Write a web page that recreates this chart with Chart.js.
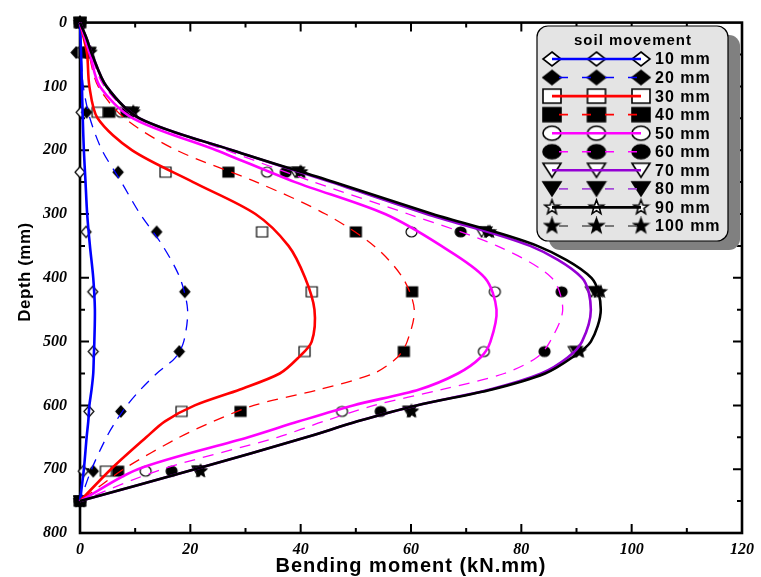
<!DOCTYPE html>
<html><head><meta charset="utf-8">
<script src="https://cdn.jsdelivr.net/npm/chart.js@4.4.1/dist/chart.umd.min.js"></script>
<style>html,body{margin:0;padding:0;background:#fff}#wrap{width:761px;height:577px;position:relative}</style>
</head><body><div id="wrap"><canvas id="c" width="761" height="577"></canvas></div>
<script>
// ---------- data ----------
const legendTitle = 'soil movement';
const seriesLabels = ['10 mm','20 mm','30 mm','40 mm','50 mm','60 mm','70 mm','80 mm','90 mm','100 mm'];
const xTitle = 'Bending moment (kN.mm)';
const yTitle = 'Depth (mm)';

// depths (mm) of the measured points (markers)
const markerDepths = [0, 46.9, 140.6, 234.4, 328.1, 421.9, 515.6, 609.4, 703.1, 750];
const m10  = [0, 0,    0.2, 0,    1.1,  2.3,  2.4,  1.6,  0.6,  0];
const m20  = [0, -0.7, 1.2, 6.9,  13.9, 19.0, 18.0, 7.4,  2.4,  0];
const m30  = [0, 0.5,  3.2, 15.5, 33.0, 42.0, 40.7, 18.4, 4.7,  0];
const m40  = [0, 0.8,  5.3, 26.9, 50.0, 60.2, 58.7, 29.1, 6.9,  0];
const m50  = [0, 1.2,  7.4, 33.9, 60.1, 75.2, 73.2, 47.5, 11.9, 0];
const m60  = [0, 1.4,  8.4, 37.3, 69.0, 87.3, 84.2, 54.5, 16.6, 0];
const m70  = [0, 1.6,  9.2, 39.0, 72.8, 92.7, 89.6, 59.6, 21.4, 0];
const m80  = [0, 1.8,  9.6, 39.6, 73.6, 93.3, 90.0, 59.8, 21.6, 0];
const m90  = [0, 1.8,  9.6, 39.9, 74.0, 94.0, 90.4, 60.0, 21.8, 0];
const m100 = [0, 1.9,  9.7, 40.1, 74.3, 94.4, 90.6, 60.2, 21.9, 0];

// depths (mm) at which the fitted curves were read
const lineDepths = [0, 25, 50, 100, 150, 200, 250, 300, 350, 400, 450, 500, 525, 550, 575, 600, 625, 650, 700, 750];
const l10  = [0, 0.1, 0.2, 0.35, 0.5, 0.7, 1.0, 1.3, 1.8, 2.4, 2.7, 2.6, 2.5, 2.4, 2.1, 1.7, 1.5, 1.2, 0.7, 0];
const l20  = [0, 0.1, 0.2, 0.6, 1.8, 4.0, 7.5, 10.9, 15.0, 18.1, 19.5, 18.8, 17.3, 13.9, 11.0, 8.5, 6.5, 4.8, 2.1, 0];
const l30  = [0, 0.7, 1.3, 1.7, 3.2, 9.4, 20.5, 31.8, 37.8, 40.8, 42.5, 42.0, 39.6, 36.2, 29.0, 20.8, 15.4, 12.0, 5.6, 0];
const l40  = [0, 0.8, 1.6, 3.3, 8.1, 17.5, 32.0, 44.5, 53.3, 58.5, 60.6, 59.3, 57.5, 53.2, 43.4, 31.5, 24.2, 18.0, 7.9, 0];
const l50  = [0, 0.9, 1.8, 3.6, 9.6, 24.7, 39.0, 55.3, 65.5, 73.4, 75.5, 74.4, 72.6, 68.5, 61.5, 49.5, 39.7, 30.5, 10.5, 0];
const l60  = [0, 1.0, 2.0, 4.4, 10.5, 26.5, 42.4, 59.5, 75.6, 85.5, 87.5, 85.2, 82.8, 76.9, 65.7, 53.3, 44.2, 35.8, 14.9, 0];
const l70  = [0, 1.2, 2.2, 4.8, 10.8, 27.6, 45.5, 62.8, 81.6, 91.0, 92.6, 91.0, 88.4, 83.6, 74.3, 61.0, 50.3, 41.0, 20.8, 0];
const l80  = [0, 1.2, 2.2, 4.8, 10.8, 27.6, 45.5, 62.8, 81.6, 91.0, 92.6, 91.0, 88.4, 83.6, 74.3, 61.0, 50.3, 41.0, 20.8, 0];
const l90  = [0, 1.2, 2.2, 4.8, 10.8, 27.6, 46.0, 63.9, 82.9, 92.7, 94.4, 92.6, 89.2, 84.3, 74.7, 61.0, 50.3, 41.0, 20.8, 0];
const l100 = [0, 1.2, 2.2, 4.8, 10.8, 27.6, 46.0, 63.9, 82.9, 92.7, 94.4, 92.6, 89.2, 84.3, 74.7, 61.0, 50.3, 41.0, 20.8, 0];

const xTicks = [0, 20, 40, 60, 80, 100, 120];
const yTicks = [0, 100, 200, 300, 400, 500, 600, 700, 800];

// ---------- styles ----------
const markerSets = [m10, m20, m30, m40, m50, m60, m70, m80, m90, m100];
const lineSets   = [l10, l20, l30, l40, l50, l60, l70, l80, l90, l100];
const colors  = ['#0000ff','#0000ff','#ff0000','#ff0000','#ff00ff','#ff00ff','#9400d3','#a64ad8','#000000','#555555'];
const dashed  = [false, true, false, true, false, true, false, true, false, true];
const shapes  = ['diamond','diamond','square','square','circle','circle','triDown','triDown','star','star'];
const filled  = [false, true, false, true, false, true, false, true, false, true];
const lineOrder = [7, 6, 5, 4, 3, 2, 1, 8, 0, 9];   // lower = drawn later (on top)
const markerOrder = [29, 28, 27, 20, 26, 25, 24, 21, 23, 22];

function markerSize(shape, legend) {
  if (legend) {
    if (shape === 'star') return [15, 15];
    return [18, 14];
  }
  if (shape === 'diamond') return [10, 11];
  if (shape === 'triDown') return [12, 10];
  if (shape === 'star') return [12, 12];
  return [11, 10];
}
function makeMarker(shape, isFilled, w, h) {
  const pad = 2;
  const c = document.createElement('canvas');
  c.width = Math.ceil(w + pad * 2); c.height = Math.ceil(h + pad * 2);
  const g = c.getContext('2d');
  const cx = c.width / 2, cy = c.height / 2, rx = w / 2, ry = h / 2;
  g.beginPath();
  if (shape === 'diamond') {
    g.moveTo(cx, cy - ry); g.lineTo(cx + rx, cy); g.lineTo(cx, cy + ry); g.lineTo(cx - rx, cy); g.closePath();
  } else if (shape === 'square') {
    g.rect(cx - rx, cy - ry, w, h);
  } else if (shape === 'circle') {
    g.ellipse(cx, cy, rx, ry, 0, 0, Math.PI * 2);
  } else if (shape === 'triDown') {
    g.moveTo(cx - rx, cy - ry); g.lineTo(cx + rx, cy - ry); g.lineTo(cx, cy + ry); g.closePath();
  } else if (shape === 'star') {
    for (let i = 0; i < 10; i++) {
      const a = -Math.PI / 2 + i * Math.PI / 5;
      const k = i % 2 === 0 ? 1 : 0.42;
      const x = cx + rx * k * Math.cos(a), y = cy + ry * k * Math.sin(a);
      if (i) g.lineTo(x, y); else g.moveTo(x, y);
    }
    g.closePath();
  }
  g.fillStyle = isFilled ? '#000' : '#fff';
  g.fill();
  g.lineWidth = w > 13 ? 1.6 : 1.2;
  g.strokeStyle = '#000';
  g.stroke();
  return c;
}
const plotMarkers = shapes.map((s, i) => { const [w, h] = markerSize(s, false); return makeMarker(s, filled[i], w, h); });
const legendMarkers = shapes.map((s, i) => { const [w, h] = markerSize(s, true); return makeMarker(s, filled[i], w, h); });

// ---------- datasets ----------
const datasets = [];
seriesLabels.forEach((lab, i) => {
  datasets.push({
    label: lab + ' curve',
    data: lineDepths.map((d, k) => ({ x: lineSets[i][k], y: d })),
    showLine: true,
    borderColor: colors[i],
    borderWidth: dashed[i] ? 1.3 : 2.6,
    borderDash: dashed[i] ? [11, 8] : [],
    tension: 0.3,
    pointRadius: 0,
    pointHoverRadius: 0,
    fill: false,
    clip: false,
    order: lineOrder[i]
  });
  datasets.push({
    label: lab,
    data: markerDepths.map((d, k) => ({ x: markerSets[i][k], y: d })),
    showLine: false,
    pointStyle: plotMarkers[i],
    pointRadius: 6,
    pointHoverRadius: 6,
    clip: false,
    order: markerOrder[i]
  });
});

// ---------- plugins ----------
const framePlugin = {
  id: 'frame',
  beforeDatasetsDraw(chart) {
    const { ctx, chartArea: a, scales: { x, y } } = chart;
    ctx.save();
    ctx.strokeStyle = '#000';
    ctx.lineWidth = 2.6;
    ctx.strokeRect(a.left, a.top, a.right - a.left, a.bottom - a.top);
    ctx.lineWidth = 2;
    ctx.beginPath();
    for (let v = 10; v < 120; v += 10) {
      const px = x.getPixelForValue(v);
      const len = v % 20 === 0 ? 9 : 5;
      ctx.moveTo(px, a.bottom); ctx.lineTo(px, a.bottom - len);
      ctx.moveTo(px, a.top); ctx.lineTo(px, a.top + len);
    }
    for (let v = 50; v < 800; v += 50) {
      const py = y.getPixelForValue(v);
      const len = v % 100 === 0 ? 9 : 5;
      ctx.moveTo(a.left, py); ctx.lineTo(a.left + len, py);
      ctx.moveTo(a.right, py); ctx.lineTo(a.right - len, py);
    }
    ctx.stroke();
    ctx.restore();
  },
  afterDraw(chart) {
    // axis titles (drawn here so that letter spacing can match the original)
    const { ctx, chartArea: a } = chart;
    ctx.save();
    ctx.fillStyle = '#000';
    ctx.textAlign = 'center'; ctx.textBaseline = 'middle';
    ctx.letterSpacing = '1px';
    ctx.font = 'bold 20px "Liberation Sans", Arial, sans-serif';
    ctx.fillText(xTitle, (a.left + a.right) / 2, 566);
    ctx.letterSpacing = '0.5px';
    ctx.font = 'bold 17px "Liberation Sans", Arial, sans-serif';
    ctx.translate(25, 272);
    ctx.rotate(-Math.PI / 2);
    ctx.fillText(yTitle, 0, 0);
    ctx.restore();
  }
};
function roundRect(ctx, x, y, w, h, r) {
  ctx.beginPath();
  ctx.moveTo(x + r, y);
  ctx.lineTo(x + w - r, y); ctx.arcTo(x + w, y, x + w, y + r, r);
  ctx.lineTo(x + w, y + h - r); ctx.arcTo(x + w, y + h, x + w - r, y + h, r);
  ctx.lineTo(x + r, y + h); ctx.arcTo(x, y + h, x, y + h - r, r);
  ctx.lineTo(x, y + r); ctx.arcTo(x, y, x + r, y, r);
  ctx.closePath();
}
const legendPlugin = {
  id: 'boxLegend',
  afterDraw(chart) {
    const ctx = chart.ctx;
    const L = 537, T = 26, R = 728, B = 241, rad = 11;
    ctx.save();
    ctx.fillStyle = '#808080';
    roundRect(ctx, L + 12, T + 9, R - L, B - T, rad); ctx.fill();
    ctx.fillStyle = '#e4e4e4';
    roundRect(ctx, L, T, R - L, B - T, rad); ctx.fill();
    ctx.lineWidth = 1.2; ctx.strokeStyle = '#000'; ctx.stroke();
    ctx.fillStyle = '#000';
    ctx.letterSpacing = '1px';
    ctx.font = 'bold 15px "Liberation Sans", Arial, sans-serif';
    ctx.textAlign = 'center'; ctx.textBaseline = 'middle';
    ctx.fillText(legendTitle, 633, 41);
    ctx.textAlign = 'left';
    ctx.font = 'bold 16px "Liberation Sans", Arial, sans-serif';
    const x0 = 552, x1 = 641, xm = (x0 + x1) / 2;
    seriesLabels.forEach((lab, i) => {
      const yy = 59 + i * 18.55;
      const img = legendMarkers[i];
      [x0, xm, x1].forEach(px => ctx.drawImage(img, px - img.width / 2, yy - img.height / 2));
      ctx.save();
      ctx.strokeStyle = colors[i];
      ctx.lineWidth = dashed[i] ? 1.6 : 2.6;
      ctx.setLineDash(dashed[i] ? [9, 14] : []);
      ctx.lineDashOffset = dashed[i] ? -7 : 0;
      ctx.beginPath(); ctx.moveTo(x0, yy); ctx.lineTo(x1, yy); ctx.stroke();
      ctx.restore();
      ctx.fillText(lab, 655, yy + 1);
    });
    ctx.restore();
  }
};

const tickFont = { family: '"Liberation Serif", "Times New Roman", serif', size: 16, style: 'italic', weight: 'bold' };

new Chart(document.getElementById('c'), {
  type: 'scatter',
  data: { datasets },
  options: {
    responsive: false,
    animation: false,
    devicePixelRatio: 1,
    layout: { padding: { top: 17, right: 16, left: 0, bottom: 0 } },
    plugins: { legend: { display: false }, tooltip: { enabled: false } },
    scales: {
      x: {
        type: 'linear', min: 0, max: 120,
        afterBuildTicks: s => { s.ticks = xTicks.map(v => ({ value: v })); },
        afterFit: s => { s.height = 44; },
        grid: { display: true, drawOnChartArea: false, drawTicks: false, color: 'rgba(0,0,0,0)' },
        border: { display: false },
        ticks: { font: tickFont, color: '#000', padding: 7, maxRotation: 0 },
        title: { display: false, text: xTitle }
      },
      y: {
        type: 'linear', min: 0, max: 800, reverse: true,
        afterBuildTicks: s => { s.ticks = yTicks.map(v => ({ value: v })); },
        afterFit: s => { s.width = 80; },
        grid: { display: true, drawOnChartArea: false, drawTicks: false, color: 'rgba(0,0,0,0)' },
        border: { display: false },
        ticks: { font: tickFont, color: '#000', padding: 13 },
        title: { display: false, text: yTitle }
      }
    }
  },
  plugins: [framePlugin, legendPlugin]
});
</script>
</body></html>
